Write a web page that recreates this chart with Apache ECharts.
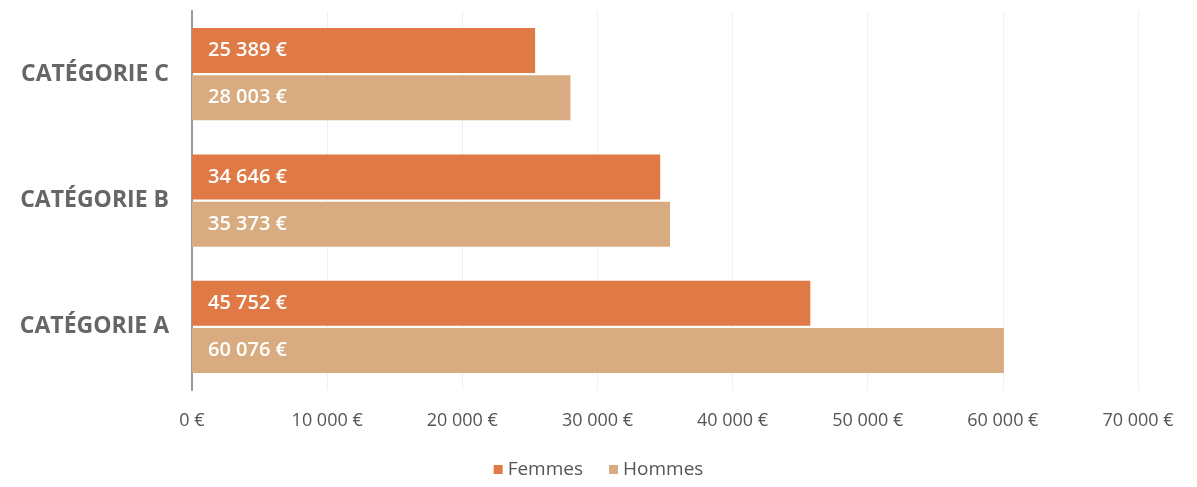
<!DOCTYPE html>
<html>
<head>
<meta charset="utf-8">
<script src="https://cdn.jsdelivr.net/npm/echarts@6/dist/echarts.min.js"></script>
<style>
  html, body { margin: 0; padding: 0; background: #fff; }
  #chart { width: 1197px; height: 487px; }
</style>
</head>
<body>
<div id="chart"></div>
<script>
// Salaires moyens par catégorie, femmes / hommes
const categories = ['CATÉGORIE A', 'CATÉGORIE B', 'CATÉGORIE C'];
const femmes = [45752, 34646, 25389];
const hommes = [60076, 35373, 28003];
const axisMax = 70000;
const axisStep = 10000;

function euro(v) {
  return String(Math.round(v)).replace(/\B(?=(\d{3})+(?!\d))/g, ' ') + ' €';
}

const chart = echarts.init(document.getElementById('chart'), null, { renderer: 'canvas' });

const labelStyle = {
  show: true,
  position: 'insideLeft',
  distance: 16,
  color: '#fff',
  fontFamily: 'Open Sans',
  fontWeight: 600,
  fontSize: 20,
  formatter: p => euro(p.value)
};

chart.setOption({
  animation: false,
  backgroundColor: '#fff',
  grid: { left: 192, right: 59, top: 11, bottom: 97, containLabel: false },
  legend: {
    bottom: 3,
    left: 'center',
    itemWidth: 9,
    itemHeight: 9,
    itemGap: 26,
    icon: 'rect',
    textStyle: { color: '#555', fontFamily: 'Open Sans', fontSize: 19 },
    data: ['Femmes', 'Hommes']
  },
  xAxis: {
    type: 'value',
    min: 0,
    max: axisMax,
    interval: axisStep,
    axisLine: { show: false },
    axisTick: { show: false },
    splitLine: { show: true, lineStyle: { color: '#f0f0f0', width: 1 } },
    axisLabel: {
      color: '#555',
      fontFamily: 'Open Sans',
      fontSize: 18,
      margin: 22,
      formatter: v => euro(v)
    }
  },
  yAxis: {
    type: 'category',
    data: categories,
    axisLine: { show: true, lineStyle: { color: '#999', width: 2 } },
    axisTick: { show: false },
    axisLabel: {
      color: '#666',
      fontFamily: 'Open Sans',
      fontWeight: 'bold',
      fontSize: 23,
      margin: 23
    }
  },
  series: [
    {
      name: 'Femmes',
      type: 'bar',
      data: femmes,
      barWidth: 45,
      barGap: '5%',
      itemStyle: { color: '#df7a46' },
      label: labelStyle
    },
    {
      name: 'Hommes',
      type: 'bar',
      data: hommes,
      barWidth: 45,
      barGap: '5%',
      itemStyle: { color: '#d8ac80' },
      label: labelStyle
    }
  ]
});
</script>
</body>
</html>
